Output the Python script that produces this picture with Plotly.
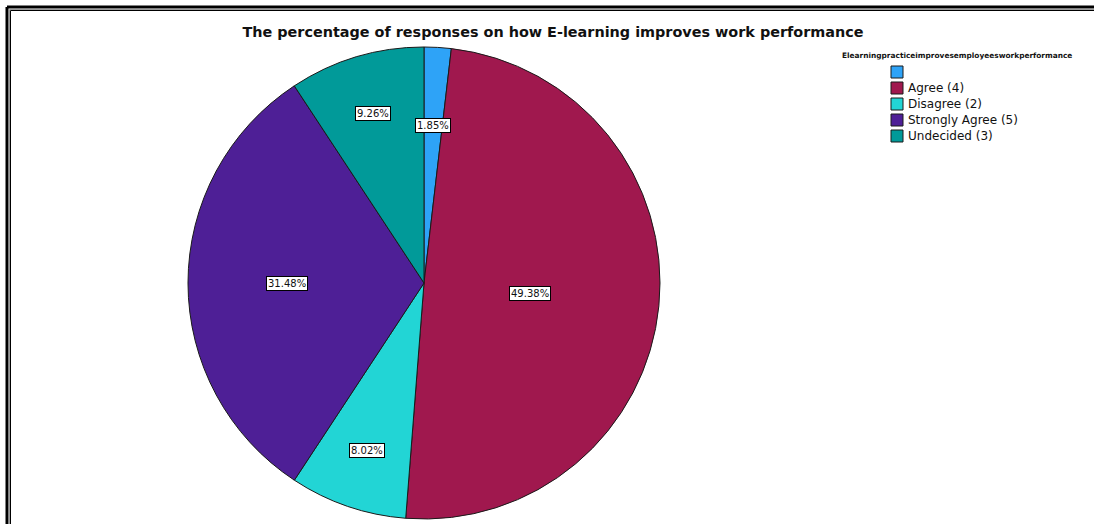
import math
import plotly.graph_objects as go

# Response categories and their share of answers (%)
categories = ["", "Agree (4)", "Disagree (2)", "Strongly Agree (5)", "Undecided (3)"]
percentages = [1.85, 49.38, 8.02, 31.48, 9.26]
slice_colors = ["#2EA3F7", "#A0184E", "#22D5D5", "#4E1F96", "#019A99"]

W, H = 1094, 524
CX, CY, R = 424, 283, 236  # pie centre and radius in pixels

# distance of each value label from the centre, as a fraction of the radius
label_radius = [0.67, 0.45, 0.75, 0.58, 0.75]

fig = go.Figure()
fig.add_trace(go.Pie(
    labels=[c if c else " " for c in categories],
    values=percentages,
    sort=False,
    direction="clockwise",
    rotation=0,
    textinfo="none",
    hoverinfo="label+percent",
    showlegend=False,
    marker=dict(colors=slice_colors, line=dict(color="#1a1a1a", width=1)),
    domain=dict(x=[(CX - R) / W, (CX + R) / W], y=[1 - (CY + R) / H, 1 - (CY - R) / H]),
))

# boxed percentage labels placed along each slice's mid angle
annotations = []
shapes = []
total = sum(percentages)
cum = 0.0
for pct, rf in zip(percentages, label_radius):
    mid = (cum + pct / 2) / total * 2 * math.pi
    cum += pct
    px = CX + rf * R * math.sin(mid)
    py = CY - rf * R * math.cos(mid)
    annotations.append(dict(
        x=px / W, y=1 - py / H, xref="paper", yref="paper",
        xanchor="center", yanchor="middle",
        text=f"{pct:.2f}%", showarrow=False,
        font=dict(family="DejaVu Sans", size=10, color="#111111"),
        bgcolor="white", bordercolor="black", borderwidth=1, borderpad=1,
    ))

# legend: heading, then a swatch and name per category
LEG_X, LEG_Y0, LEG_STEP, SW = 891, 72, 16, 12
annotations.append(dict(
    x=840 / W, y=1 - 56 / H, xref="paper", yref="paper",
    xanchor="left", yanchor="middle", showarrow=False,
    text="<b>Elearningpracticeimprovesemployeesworkperformance</b>",
    font=dict(family="DejaVu Sans", size=7.4, color="#111111"),
))
for i, (name, color) in enumerate(zip(categories, slice_colors)):
    yc = LEG_Y0 + i * LEG_STEP
    shapes.append(dict(type="rect", xref="paper", yref="paper",
                       x0=LEG_X / W, x1=(LEG_X + SW) / W,
                       y0=1 - (yc + SW / 2) / H, y1=1 - (yc - SW / 2) / H,
                       fillcolor=color, line=dict(color="#1a1a1a", width=1)))
    if name:
        annotations.append(dict(
            x=(LEG_X + SW + 3) / W, y=1 - yc / H, xref="paper", yref="paper",
            xanchor="left", yanchor="middle", showarrow=False, text=name,
            font=dict(family="DejaVu Sans", size=12, color="#111111"),
        ))

# double frame along the top and left edges
for pos, width, color in [(7, 3, "black"), (9.5, 1, "#9a9a9a"), (10.5, 1, "black")]:
    shapes.append(dict(type="line", xref="paper", yref="paper",
                       x0=pos / W, x1=1.02, y0=1 - pos / H, y1=1 - pos / H,
                       line=dict(color=color, width=width)))
    shapes.append(dict(type="line", xref="paper", yref="paper",
                       x0=pos / W, x1=pos / W, y0=1 - pos / H, y1=-0.02,
                       line=dict(color=color, width=width)))

fig.update_layout(
    width=W, height=H,
    margin=dict(l=0, r=0, t=0, b=0),
    paper_bgcolor="white", plot_bgcolor="white",
    title=dict(
        text="<b>The percentage of responses on how E-learning improves work performance</b>",
        x=553 / W, xanchor="center", y=1 - 32 / H, yanchor="middle",
        font=dict(family="DejaVu Sans", size=14.4, color="#111111"),
    ),
    annotations=annotations,
    shapes=shapes,
)

fig.write_html("out.html")
